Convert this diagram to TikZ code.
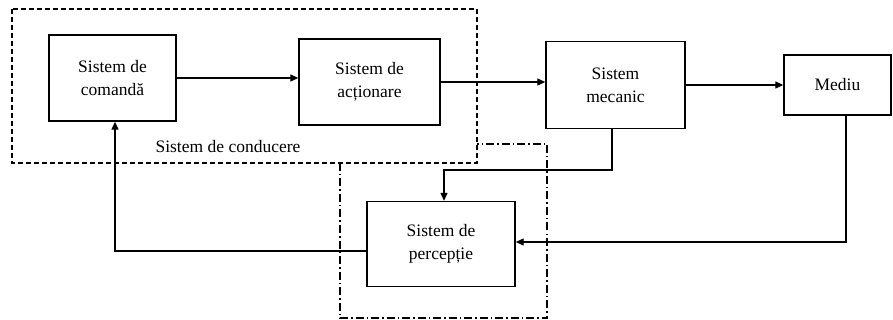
\documentclass[tikz,border=0pt]{standalone}
\usepackage{fontspec}
\setmainfont{Liberation Serif}
\usetikzlibrary{arrows.meta}
\begin{document}
\begin{tikzpicture}[x=1pt,y=-1pt,
  blk/.style={draw, line width=1.4pt, rectangle, inner sep=0pt, align=center,
              font=\fontsize{17.5}{23}\selectfont},
  conn/.style={line width=1.3pt, -{Triangle[length=8pt,width=7pt]}},
  groupbox/.style={line width=1.3pt, dash pattern=on 5pt off 3pt},
  sensebox/.style={line width=1.2pt, dash pattern=on 8pt off 3pt on 1.5pt off 3pt},
  lbl/.style={font=\fontsize{17.5}{23}\selectfont, inner sep=0pt}]
\useasboundingbox (0,0) rectangle (893,320);
\fill[white] (0,0) rectangle (893,320);

% driving-system group (dashed) and perception group (dash-dot)
\draw[groupbox] (12,9) rectangle (477,163);
\draw[sensebox] (340,163) -- (340,318) -- (547,318) -- (547,144) -- (477,144);
\node[lbl] (cond) at (228,147) {Sistem de conducere};

% blocks
\node[blk, minimum width=127pt, minimum height=86pt] (cmd) at (112.5,78) {Sistem de\\comandă};
\node[blk, minimum width=141pt, minimum height=86pt] (act) at (369.5,82) {Sistem de\\acționare};
\node[blk, minimum width=139pt, minimum height=87pt] (mec) at (615.5,85) {Sistem\\mecanic};
\node[blk, minimum width=107pt, minimum height=60pt] (med) at (837.5,85) {Mediu};
\node[blk, minimum width=148pt, minimum height=85pt] (per) at (441,244) {Sistem de\\percepție};

% forward chain
\draw[conn] (cmd.east) -- (cmd.east -| act.west);
\draw[conn] (act.east) -- (act.east -| mec.west);
\draw[conn] (mec.east) -- (mec.east -| med.west);

% feedback paths
\coordinate (mecdown) at (612,170);
\draw[conn] ([xshift=-3.5pt]mec.south) -- (mecdown) -| ([xshift=3pt]per.north);
\draw[conn] ([xshift=8.5pt]med.south) |- ([yshift=2pt]per.east);
\draw[conn] ([yshift=-7pt]per.west) -| ([xshift=2.5pt]cmd.south);
\end{tikzpicture}
\end{document}
